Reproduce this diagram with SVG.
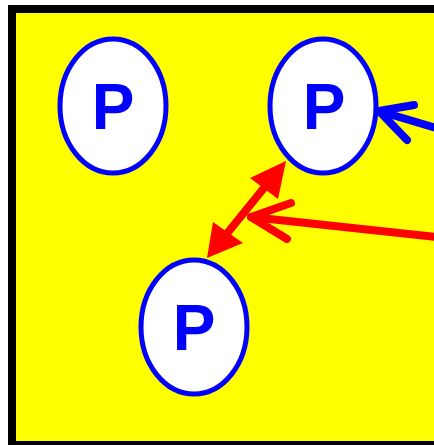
<svg xmlns="http://www.w3.org/2000/svg" width="434" height="445" viewBox="0 0 434 445">
  <style>
    .node ellipse { fill: #ffffff; stroke: #0000ff; stroke-width: 5; }
    .node text { font-family: "Liberation Sans", Arial, sans-serif; font-weight: bold; font-size: 64px; fill: #0000ff; text-anchor: middle; }
    .blue { stroke: #0000ff; stroke-width: 8; fill: none; stroke-linecap: round; stroke-linejoin: round; }
    .red { stroke: #ff0000; stroke-width: 8; fill: none; stroke-linecap: round; stroke-linejoin: round; }
    .redhead { fill: #ff0000; stroke: none; }
  </style>

  <!-- frame -->
  <rect x="12" y="9" width="440" height="436" fill="#ffff00" stroke="#000000" stroke-width="8"/>

  <!-- nodes -->
  <g id="p1" class="node">
    <ellipse cx="113" cy="106" rx="53" ry="67"/>
    <text x="113" y="129">P</text>
  </g>
  <g id="p2" class="node">
    <ellipse cx="323" cy="106" rx="53" ry="67"/>
    <text x="324" y="129">P</text>
  </g>
  <g id="p3" class="node">
    <ellipse cx="194" cy="327" rx="53" ry="67"/>
    <text x="194" y="350">P</text>
  </g>

  <!-- connectors -->
  <g id="connectors">
    <!-- incoming blue arrow to p2 -->
    <path class="blue" d="M436 128 L379 111"/>
    <path class="blue" d="M414 105 L379 111 L407 140"/>

    <!-- double-headed red arrow between p2 and p3 -->
    <path class="red" d="M268 183 L225 236"/>
    <polygon class="redhead" points="286,161 278,199 250,178"/>
    <polygon class="redhead" points="207,258 213,222 243,243"/>

    <!-- red arrow pointing at the double arrow -->
    <path class="red" d="M436 237 L251 217"/>
    <path class="red" d="M291 203 L251 217 L287 239"/>
  </g>
</svg>
